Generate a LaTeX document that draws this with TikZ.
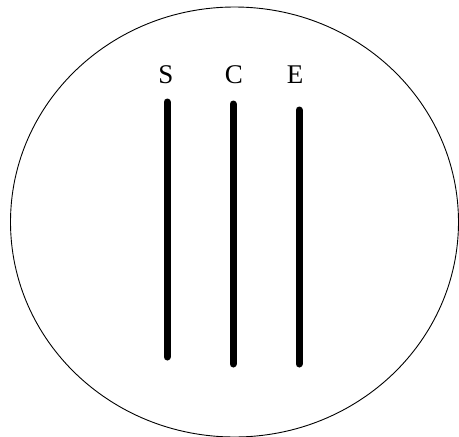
\documentclass[tikz,border=0pt]{standalone}
\usepackage{fontspec}
\setmainfont{Liberation Serif}
\begin{document}
\begin{tikzpicture}[
  x=1pt, y=-1pt,
  every node/.style={font=\fontsize{27}{27}\selectfont, anchor=base, inner sep=0pt},
  rod/.style={line width=7pt, line cap=round}
]
  \useasboundingbox (0,0) rectangle (459,437);
  \draw[line width=0.9pt] (234.5,222) ellipse [x radius=224, y radius=215];

  \node (s) at (166,83) {S};
  \node (c) at (234,83) {C};
  \node (e) at (295,83) {E};

  \coordinate (s1) at (167,102); \coordinate (s2) at (167,357);
  \coordinate (c1) at (233,104); \coordinate (c2) at (233,364);
  \coordinate (e1) at (299,110); \coordinate (e2) at (299,364);

  \draw[rod] (s1)--(s2);
  \draw[rod] (c1)--(c2);
  \draw[rod] (e1)--(e2);
\end{tikzpicture}
\end{document}
